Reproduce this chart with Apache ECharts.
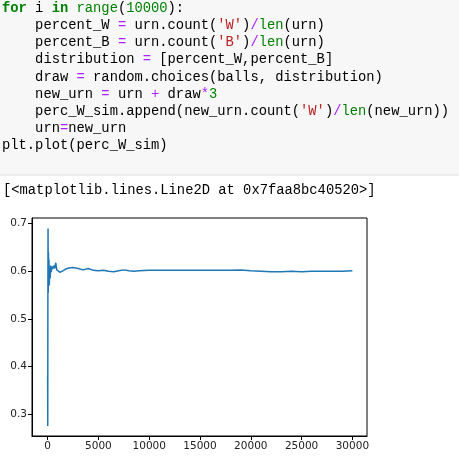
<!DOCTYPE html>
<html>
<head>
<meta charset="utf-8">
<script src="https://cdn.jsdelivr.net/npm/echarts@6/dist/echarts.min.js"></script>
<style>html,body{margin:0;padding:0;background:#fff}#c{width:459px;height:459px}</style>
</head>
<body>
<div id="c"></div>
<script>
// perc_W_sim sampled points [index, value]
const simX = [0, 10, 25, 40, 60, 80, 100, 130, 160, 200, 250, 300, 350, 420, 500, 600, 700, 800, 900, 1000, 1200, 1500, 1800, 2100, 2500, 3000, 3500, 4000, 4500, 5000, 5500, 6000, 6500, 7000, 7500, 8000, 8500, 9000, 10000, 11000, 12000, 13000, 14000, 15000, 16000, 17000, 18000, 19000, 20000, 21000, 22000, 23000, 24000, 25000, 26000, 27000, 28000, 29000, 30000];
const simY = [0.38, 0.275, 0.56, 0.69, 0.555, 0.64, 0.575, 0.625, 0.57, 0.6, 0.585, 0.612, 0.598, 0.61, 0.605, 0.612, 0.606, 0.618, 0.603, 0.6, 0.598, 0.601, 0.605, 0.607, 0.608, 0.606, 0.603, 0.606, 0.602, 0.601, 0.602, 0.6, 0.599, 0.601, 0.603, 0.601, 0.6, 0.601, 0.602, 0.602, 0.602, 0.602, 0.602, 0.602, 0.602, 0.602, 0.602, 0.603, 0.601, 0.6, 0.599, 0.599, 0.6, 0.599, 0.6, 0.6, 0.6, 0.6, 0.601];
const xTicks = [0, 5000, 10000, 15000, 20000, 25000, 30000];
const yTicks = [0.3, 0.4, 0.5, 0.6, 0.7];

const codeLines = [
  [['for', 'kw'], [' i ', 'p'], ['in', 'kw'], [' ', 'p'], ['range', 'bi'], ['(', 'p'], ['10000', 'num'], ['):', 'p']],
  [['    percent_W ', 'p'], ['=', 'op'], [' urn.count(', 'p'], ["'W'", 'str'], [')', 'p'], ['/', 'op'], ['len', 'bi'], ['(urn)', 'p']],
  [['    percent_B ', 'p'], ['=', 'op'], [' urn.count(', 'p'], ["'B'", 'str'], [')', 'p'], ['/', 'op'], ['len', 'bi'], ['(urn)', 'p']],
  [['    distribution ', 'p'], ['=', 'op'], [' [percent_W,percent_B]', 'p']],
  [['    draw ', 'p'], ['=', 'op'], [' random.choices(balls, distribution)', 'p']],
  [['    new_urn ', 'p'], ['=', 'op'], [' urn ', 'p'], ['+', 'op'], [' draw', 'p'], ['*', 'op'], ['3', 'num']],
  [['    perc_W_sim.append(new_urn.count(', 'p'], ["'W'", 'str'], [')', 'p'], ['/', 'op'], ['len', 'bi'], ['(new_urn))', 'p']],
  [['    urn', 'p'], ['=', 'op'], ['new_urn', 'p']],
  [['plt.plot(perc_W_sim)', 'p']]
];

const mono = 'Liberation Mono';
const rich = {
  p: {fontFamily: mono, fontSize: 13.8, fill: '#000'},
  kw: {fontFamily: mono, fontSize: 13.8, fill: '#008000', fontWeight: 'bold'},
  bi: {fontFamily: mono, fontSize: 13.8, fill: '#008000'},
  num: {fontFamily: mono, fontSize: 13.8, fill: '#008000'},
  op: {fontFamily: mono, fontSize: 13.8, fill: '#aa22ff'},
  str: {fontFamily: mono, fontSize: 13.8, fill: '#ba2121'}
};

const graphic = [
  {type: 'rect', shape: {x: 0, y: 0, width: 459, height: 175}, style: {fill: '#f7f7f7'}, z: -10},
  {type: 'line', shape: {x1: 0, y1: 175, x2: 459, y2: 175}, style: {stroke: '#e0e0e0', lineWidth: 1}}
];
codeLines.forEach((line, i) => {
  graphic.push({
    type: 'text', x: 2, y: 8.5 + i * 17.1,
    style: {text: line.map(t => '{' + t[1] + '|' + t[0] + '}').join(''), rich: rich, verticalAlign: 'middle'}
  });
});
graphic.push({
  type: 'text', x: 3, y: 190,
  style: {text: '[<matplotlib.lines.Line2D at 0x7faa8bc40520>]', fontFamily: mono, fontSize: 13.8, fill: '#000', verticalAlign: 'middle'}
});

const chart = echarts.init(document.getElementById('c'));
chart.setOption({
  animation: false,
  graphic: graphic,
  grid: {left: 32, top: 218, width: 335, height: 218, show: true, borderColor: '#000', borderWidth: 1},
  xAxis: {
    type: 'value', min: -1540, max: 31440,
    splitLine: {show: false},
    axisLine: {show: true, onZero: false, lineStyle: {color: '#000'}},
    axisTick: {show: true, inside: false, length: 4, customValues: xTicks, lineStyle: {color: '#000'}},
    axisLabel: {customValues: xTicks, color: '#222', fontFamily: 'DejaVu Sans', fontSize: 10.5, margin: 5, formatter: v => String(v)}
  },
  yAxis: {
    type: 'value', min: 0.254, max: 0.712,
    splitLine: {show: false},
    axisLine: {show: true, onZero: false, lineStyle: {color: '#000'}},
    axisTick: {show: true, inside: false, length: 4, customValues: yTicks, lineStyle: {color: '#000'}},
    axisLabel: {customValues: yTicks, color: '#222', fontFamily: 'DejaVu Sans', fontSize: 10.5, margin: 5, formatter: v => v.toFixed(1)}
  },
  series: [{
    type: 'line', showSymbol: false,
    data: simX.map((x, i) => [x, simY[i]]),
    lineStyle: {color: '#1f77b4', width: 1.5}
  }]
});
</script>
</body>
</html>
